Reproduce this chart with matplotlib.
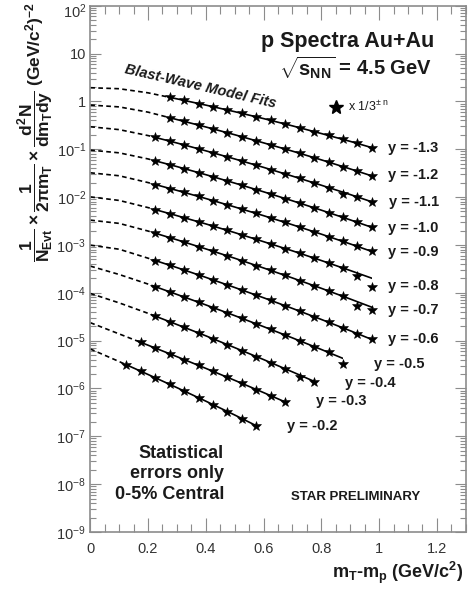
import matplotlib
matplotlib.use('Agg')
import matplotlib.pyplot as plt
from matplotlib.patches import Rectangle
from matplotlib.transforms import ScaledTranslation
from matplotlib.ticker import MultipleLocator, LogLocator, FuncFormatter, FormatStrFormatter, NullFormatter
import math

# m_T - m_p bin centres (GeV/c^2)
mt_bins = [0.125, 0.175, 0.225, 0.275, 0.325, 0.375, 0.425, 0.475, 0.525,
           0.575, 0.625, 0.675, 0.725, 0.775, 0.825, 0.875, 0.925, 0.975]
# grid on which the blast-wave fit curves are read
mt_grid = [0.0, 0.1, 0.2, 0.3, 0.4, 0.5, 0.6, 0.7, 0.8, 0.9, 1.0]

rapidity = ['-1.3', '-1.2', '-1.1', '-1.0', '-0.9', '-0.8',
            '-0.7', '-0.6', '-0.5', '-0.4', '-0.3', '-0.2']
first_bin = [3, 3, 2, 2, 2, 2, 2, 2, 2, 2, 1, 0]

# scaled proton yields (stars)
p_y13 = [1.21, 1.05, 0.902, 0.773, 0.661, 0.561, 0.475, 0.401, 0.337, 0.281, 0.234, 0.194, 0.160, 0.132, 0.108]
p_y12 = [0.455, 0.382, 0.320, 0.266, 0.221, 0.183, 0.151, 0.124, 0.101, 0.0822, 0.0667, 0.0538, 0.0434, 0.0348, 0.0277]
p_y11 = [0.177, 0.148, 0.123, 0.102, 0.0841, 0.0692, 0.0568, 0.0462, 0.0377, 0.0305, 0.0246, 0.0198, 0.0158,
         0.0117, 0.0101, 0.00798]
p_y10 = [0.0574, 0.0476, 0.0394, 0.0324, 0.0266, 0.0218, 0.0177, 0.0144, 0.0116, 0.00933, 0.00748, 0.00597,
         0.00475, 0.00376, 0.00296, 0.00233]
p_y09 = [0.0182, 0.0151, 0.0125, 0.0103, 0.00845, 0.00690, 0.00561, 0.00455, 0.00367, 0.00295, 0.00236,
         0.00188, 0.00150, 0.00118, 0.000930, 0.000730]
p_y08 = [0.00547, 0.00452, 0.00371, 0.00304, 0.00248, 0.00201, 0.00163, 0.00131, 0.00105, 0.000841,
         0.000670, 0.000531, 0.000420, 0.000330, 0.000229, 0.000133]
p_y07 = [0.00175, 0.00142, 0.00115, 0.000923, 0.000740, 0.000590, 0.000470, 0.000371, 0.000293, 0.000231,
         0.000180, 0.000141, 0.000109, 8.43e-5, 5.37e-5, 4.40e-5]
p_y06 = [4.72e-4, 3.77e-4, 2.99e-4, 2.37e-4, 1.87e-4, 1.47e-4, 1.15e-4, 8.93e-5, 6.93e-5, 5.36e-5, 4.13e-5,
         3.17e-5, 2.42e-5, 1.85e-5, 1.40e-5, 1.06e-5]
p_y05 = [1.33e-4, 1.04e-4, 8.15e-5, 6.34e-5, 4.92e-5, 3.80e-5, 2.92e-5, 2.24e-5, 1.72e-5, 1.31e-5, 9.93e-6,
         7.52e-6, 5.66e-6, 3.17e-6]
p_y04 = [3.24e-5, 2.48e-5, 1.90e-5, 1.44e-5, 1.09e-5, 8.24e-6, 6.19e-6, 4.65e-6, 3.47e-6, 2.58e-6, 1.74e-6, 1.37e-6]
p_y03 = [9.18e-6, 7.00e-6, 5.31e-6, 4.02e-6, 3.03e-6, 2.28e-6, 1.71e-6, 1.28e-6, 9.51e-7, 7.06e-7, 5.22e-7]
p_y02 = [3.11e-6, 2.29e-6, 1.68e-6, 1.22e-6, 8.85e-7, 6.40e-7, 4.60e-7, 3.30e-7, 2.35e-7, 1.67e-7]

# blast-wave fit curves on mt_grid
fit_y13 = [1.93, 1.84, 1.51, 1.13, 0.836, 0.610, 0.437, 0.308, 0.213, 0.146, 0.0977]
fit_y12 = [0.838, 0.767, 0.596, 0.417, 0.292, 0.201, 0.136, 0.0912, 0.0600, 0.0388, 0.0248]
fit_y11 = [0.295, 0.257, 0.193, 0.135, 0.0927, 0.0627, 0.0418, 0.0274, 0.0177, 0.0113, 0.00708]
fit_y10 = [0.0959, 0.0841, 0.0627, 0.0434, 0.0294, 0.0196, 0.0129, 0.00836, 0.00533, 0.00334, 0.00207]
fit_y09 = [0.0322, 0.0279, 0.0201, 0.0138, 0.00933, 0.00622, 0.00409, 0.00264, 0.00168, 0.00105, 0.000647]
fit_y08 = [0.0101, 0.00851, 0.00603, 0.00409, 0.00275, 0.00181, 0.00117, 0.000752, 0.000472, 0.000292, 0.000178]
fit_y07 = [0.00330, 0.00282, 0.00195, 0.00128, 0.000826, 0.000527, 0.000330, 0.000204, 0.000124, 7.41e-5, 4.37e-5]
fit_y06 = [9.91e-4, 8.13e-4, 5.28e-4, 3.36e-4, 2.10e-4, 1.29e-4, 7.87e-5, 4.71e-5, 2.77e-5, 1.61e-5, 9.18e-6]
fit_y05 = [3.61e-4, 2.41e-4, 1.52e-4, 9.23e-5, 5.58e-5, 3.33e-5, 1.96e-5, 1.14e-5, 6.53e-6, 3.68e-6]
fit_y04 = [9.68e-5, 6.15e-5, 3.72e-5, 2.17e-5, 1.26e-5, 7.14e-6, 4.02e-6, 2.22e-6, 1.21e-6]
fit_y03 = [2.37e-5, 1.38e-5, 8.02e-6, 4.62e-6, 2.63e-6, 1.48e-6, 8.20e-7, 4.49e-7]
fit_y02 = [6.68e-6, 3.65e-6, 1.96e-6, 1.04e-6, 5.43e-7, 2.79e-7, 1.40e-7]

star_sets = [p_y13, p_y12, p_y11, p_y10, p_y09, p_y08, p_y07, p_y06, p_y05, p_y04, p_y03, p_y02]
fit_sets = [fit_y13, fit_y12, fit_y11, fit_y10, fit_y09, fit_y08, fit_y07, fit_y06, fit_y05, fit_y04, fit_y03, fit_y02]

# label positions (pixels in the 473x590 picture)
label_px = [(388, 148), (388, 175), (389, 201.7), (388, 227.5), (388, 252), (388, 286),
            (388, 310), (388, 339.3), (374, 364), (345, 382.7), (316, 400.7), (287.3, 425.7)]

plt.rcParams['font.family'] = ['Liberation Sans', 'DejaVu Sans']
plt.rcParams['mathtext.fontset'] = 'custom'
plt.rcParams['mathtext.rm'] = 'Liberation Sans:bold'
plt.rcParams['mathtext.it'] = 'Liberation Sans:bold'
plt.rcParams['mathtext.bf'] = 'Liberation Sans:bold'
plt.rcParams['mathtext.sf'] = 'Liberation Sans:bold'

W, H = 473, 590
TXT = '#1a1a1a'
FRAME = '#8c8c8c'


def fpos(x, y):
    return x / W, 1 - y / H


fig = plt.figure(figsize=(W / 100, H / 100), dpi=100)
ax = fig.add_axes([90.3 / W, 1 - 532 / H, 375.4 / W, 526.3 / H])
ax.set_yscale('log')
ax.set_xlim(0, 1.3)
ax.set_ylim(1e-9, 1e2)

for first, stars, fit in zip(first_bin, star_sets, fit_sets):
    mt = mt_bins[first:first + len(stars)]
    x0, x1 = mt[0], mt[-1]
    grid = mt_grid[:len(fit)]
    dash, = ax.plot(grid, fit, color='black', lw=1.2, ls=(0, (2.8, 2.0)))
    dash.set_clip_path(Rectangle((-1, 1e-12), x0 + 1, 1e6, transform=ax.transData))
    solid, = ax.plot(grid, fit, color='black', lw=1.2)
    solid.set_clip_path(Rectangle((x0, 1e-12), x1 - x0, 1e6, transform=ax.transData))
    ax.plot(mt, stars, ls='none', marker='*', ms=7.5, mew=0.4, color='black', zorder=3)

# axes styling (ROOT-like)
for sp in ax.spines.values():
    sp.set_color(FRAME)
    sp.set_linewidth(1.2)
ax.xaxis.set_major_locator(MultipleLocator(0.2))
ax.xaxis.set_minor_locator(MultipleLocator(0.05))
ax.xaxis.set_major_formatter(FormatStrFormatter('%g'))
ax.yaxis.set_major_locator(LogLocator(base=10, numticks=20))
ax.yaxis.set_minor_locator(LogLocator(base=10, subs=range(2, 10), numticks=20))
ax.yaxis.set_minor_formatter(NullFormatter())


def ylab(v, pos):
    e = int(round(math.log10(v)))
    if e == 0:
        return '1'
    if e == 1:
        return '10'
    return r'$\mathdefault{10^{%d}}$' % e


ax.yaxis.set_major_formatter(FuncFormatter(ylab))
ax.tick_params(which='both', direction='in', top=True, right=True, color=FRAME, width=0.8,
               labelsize=10.5, labelcolor='#333333')
ax.tick_params(axis='x', which='major', length=10, pad=7)
ax.tick_params(axis='x', which='minor', length=5.5)
ax.tick_params(axis='y', which='major', length=8, pad=3)
ax.tick_params(axis='y', which='minor', length=4.5)

# rapidity labels
for rap, (lx, ly) in zip(rapidity, label_px):
    fig.text(*fpos(lx, ly), 'y = ' + rap, ha='left', va='center', fontsize=10.5,
             fontweight='bold', color=TXT)

fig.text(*fpos(434, 46.7), 'p Spectra Au+Au', ha='right', va='baseline', fontsize=15.5,
         fontweight='bold', color=TXT)
fig.text(*fpos(432, 75), r'$\sqrt{s_{NN}}$ = 4.5 GeV', ha='right', va='baseline', fontsize=14.5,
         fontweight='bold', color=TXT)
ax.plot([336 / W], [1 - 107 / H], transform=fig.transFigure, marker='*', ms=10, color='black',
        clip_on=False)
fig.text(*fpos(348, 111), r'x 1/3$^{\mathdefault{\pm\ n}}$', ha='left', va='baseline', fontsize=9,
         color=TXT)
fig.text(*fpos(200, 86.5), 'Blast-Wave Model Fits', rotation=-13, rotation_mode='anchor',
         ha='center', va='center', fontsize=10.5, fontweight='bold', style='italic', color=TXT)
fig.text(*fpos(224, 474), 'Statistical\nerrors only\n0-5% Central', ha='right', va='center',
         multialignment='right', fontsize=13, fontweight='bold', linespacing=1.25, color=TXT)
fig.text(*fpos(356, 497), 'STAR PRELIMINARY', ha='center', va='center', fontsize=9.5,
         fontweight='bold', color=TXT)
fig.text(*fpos(463, 573), r'm$_{T}$-m$_{p}$ (GeV/c$^{2}$)', ha='right', va='center', fontsize=13,
         fontweight='bold', color=TXT)
fig.text(*fpos(36, 2),
         r'$\dfrac{1}{N_{Evt}}\times\dfrac{1}{2\pi m_{T}}\times\dfrac{d^{2}N}{dm_{T}dy}$ (GeV/c$^{2}$)$^{-2}$',
         rotation=90, ha='center', va='top', fontsize=12.5, fontweight='bold', color=TXT)

# keep the top "10^2" label inside the canvas
fig.canvas.draw()
for lbl in ax.get_yticklabels():
    if '{2}' in lbl.get_text():
        lbl.set_transform(lbl.get_transform() + ScaledTranslation(0, -3 / 72, fig.dpi_scale_trans))

fig.savefig('out.png', dpi=100)
